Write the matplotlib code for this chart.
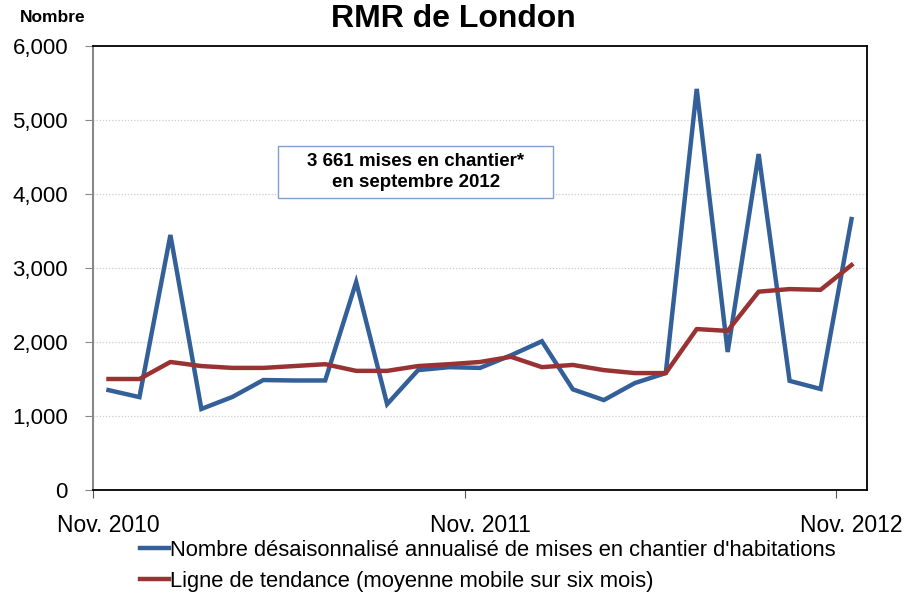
import matplotlib
matplotlib.use("Agg")
import matplotlib.pyplot as plt
from matplotlib.lines import Line2D
from matplotlib.patches import Rectangle

plt.rcParams['font.family'] = ['Liberation Sans', 'DejaVu Sans']

# Data (25 monthly categories)
x_labels = ["Nov. 2010", "Nov. 2011", "Nov. 2012"]
x_label_pos = [0, 12, 24]
starts = [1350, 1255, 3446, 1095, 1257, 1486, 1480, 1480, 2810, 1160,
          1620, 1660, 1650, 1820, 2010, 1360, 1215, 1445, 1580, 5420,
          1865, 4540, 1475, 1365, 3661]
trend = [1500, 1500, 1730, 1675, 1650, 1650, 1675, 1700, 1610, 1610,
         1675, 1700, 1730, 1800, 1660, 1690, 1620, 1580, 1580, 2175,
         2150, 2680, 2715, 2705, 3040]
y_ticks = [0, 1000, 2000, 3000, 4000, 5000, 6000]
y_tick_labels = ["0", "1,000", "2,000", "3,000", "4,000", "5,000", "6,000"]
series_names = ["Nombre désaisonnalisé annualisé de mises en chantier d'habitations",
                "Ligne de tendance (moyenne mobile sur six mois)"]

blue = "#336098"
red = "#993333"

W, H = 913, 597
fig = plt.figure(figsize=(W / 100, H / 100), dpi=100)
ax = fig.add_axes([93 / W, (H - 490) / H, 774 / W, 444 / H])

xs = list(range(len(starts)))
ax.plot(xs, starts, color=blue, lw=3.2, solid_joinstyle='miter', zorder=3)
ax.plot(xs, trend, color=red, lw=3.2, zorder=4)

ax.set_xlim(-0.5, 24.5)
ax.set_ylim(0, 6000)

ax.set_yticks(y_ticks)
ax.set_yticklabels(y_tick_labels, fontsize=16)
ax.tick_params(axis='y', direction='out', length=6, color='#888888', pad=12)

ax.set_xticks([-0.5, 11.5, 23.5])
ax.set_xticklabels([])
ax.tick_params(axis='x', which='major', direction='out', length=6, color='#555555')
ax.set_xticks(x_label_pos, minor=True)
ax.set_xticklabels(x_labels, minor=True, fontsize=16.5)
ax.tick_params(axis='x', which='minor', length=0, pad=17)

for yv in y_ticks[1:-1]:
    ax.axhline(yv, color='#cccccc', lw=0.9, ls=(0, (1, 1.5)), zorder=1)

for s in ['top', 'right', 'bottom']:
    ax.spines[s].set_color('black')
    ax.spines[s].set_linewidth(1.3)
ax.spines['left'].set_color('#888888')
ax.spines['left'].set_linewidth(1.5)

# annotation box
fig.patches.append(Rectangle((278 / W, 1 - 198 / H), 275 / W, 52 / H,
                             transform=fig.transFigure, fc='white', ec='#7f9fcf',
                             lw=1.0, zorder=5))
fig.text(416 / W, 1 - 172 / H, "3 661 mises en chantier*\nen septembre 2012",
         ha='center', va='center', fontsize=13.5, fontweight='bold',
         linespacing=1.3, zorder=6)

fig.text(453 / W, 1 - 19 / H, "RMR de London", ha='center', va='center',
         fontsize=23, fontweight='bold')
fig.text(20 / W, 1 - 17 / H, "Nombre", ha='left', va='center',
         fontsize=12.5, fontweight='bold')

handles = [Line2D([], [], color=blue, lw=3.2), Line2D([], [], color=red, lw=3.2)]
fig.legend(handles, series_names, loc='upper left', bbox_to_anchor=(140 / W, 1 - 540 / H),
           frameon=False, fontsize=15.8, handlelength=1.3, handletextpad=0.05,
           labelspacing=0.45, borderpad=0, borderaxespad=0)

fig.savefig("out.png", dpi=100)
